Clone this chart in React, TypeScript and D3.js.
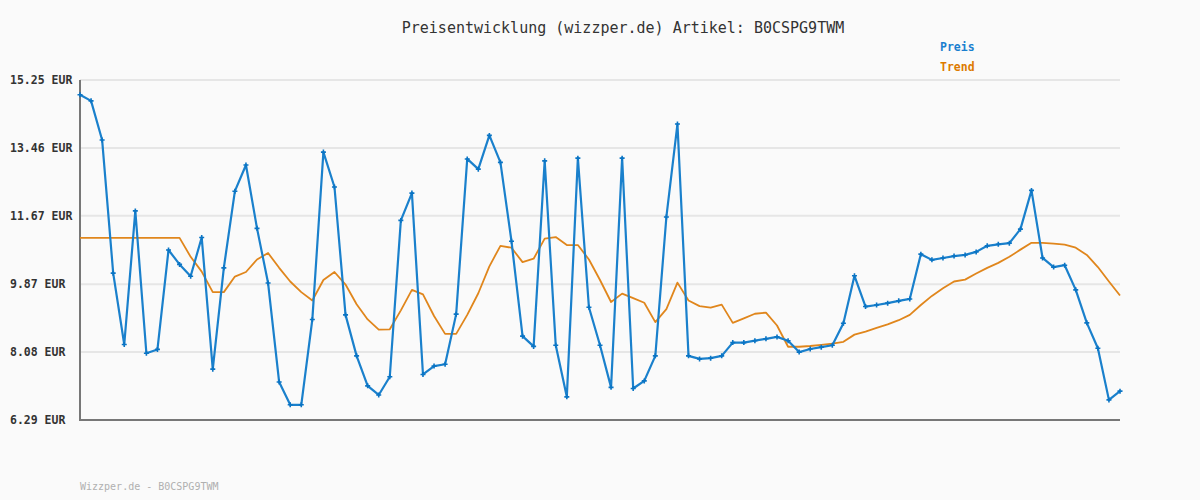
import React from 'react';
import * as d3 from 'd3';

// Preis (blue) and Trend (orange) values
const preis: number[] = [
  14.86, 14.70, 13.67, 10.16, 8.28, 11.80, 8.05, 8.15, 10.77, 10.39,
  10.08, 11.10, 7.63, 10.30, 12.32, 13.01, 11.34, 9.90, 7.29, 6.69,
  6.69, 8.94, 13.35, 12.43, 9.06, 7.98, 7.19, 6.95, 7.43, 11.55,
  12.27, 7.49, 7.71, 7.76, 9.08, 13.17, 12.90, 13.79, 13.08, 11.00,
  8.50, 8.23, 13.12, 8.26, 6.90, 13.19, 9.26, 8.26, 7.15, 13.19,
  7.12, 7.32, 7.98, 11.64, 14.09, 7.98, 7.90, 7.92, 7.98, 8.33,
  8.33, 8.38, 8.43, 8.48, 8.38, 8.08, 8.16, 8.21, 8.26, 8.84,
  10.09, 9.28, 9.32, 9.37, 9.43, 9.48, 10.66, 10.51, 10.56, 10.61,
  10.64, 10.72, 10.88, 10.92, 10.95, 11.32, 12.34, 10.56, 10.32, 10.37,
  9.72, 8.85, 8.18, 6.82, 7.05,
];

const trend: number[] = [
  11.09, 11.09, 11.09, 11.09, 11.09, 11.09, 11.09, 11.09, 11.09, 11.09,
  10.59, 10.20, 9.66, 9.66, 10.07, 10.19, 10.52, 10.69, 10.30, 9.94,
  9.66, 9.44, 9.98, 10.19, 9.86, 9.34, 8.94, 8.67, 8.68, 9.18,
  9.72, 9.60, 9.03, 8.56, 8.56, 9.06, 9.63, 10.34, 10.88, 10.83,
  10.45, 10.54, 11.07, 11.11, 10.90, 10.90, 10.52, 9.98, 9.40, 9.62,
  9.50, 9.38, 8.87, 9.21, 9.91, 9.44, 9.29, 9.25, 9.33, 8.85,
  8.97, 9.09, 9.12, 8.78, 8.22, 8.22, 8.24, 8.27, 8.30, 8.35,
  8.54, 8.62, 8.72, 8.81, 8.92, 9.06, 9.32, 9.56, 9.76, 9.94,
  9.99, 10.15, 10.30, 10.43, 10.59, 10.78, 10.96, 10.96, 10.94, 10.91,
  10.83, 10.64, 10.32, 9.94, 9.57,
];

const yTicks: number[] = [6.29, 8.08, 9.87, 11.67, 13.46, 15.25];

const articleId = 'B0CSPG9TWM';
const titleText = `Preisentwicklung (wizzper.de) Artikel: ${articleId}`;
const footerText = `Wizzper.de - ${articleId}`;

const width = 1200;
const height = 500;
const margin = { top: 80, right: 80, bottom: 80, left: 80 };
const mono = "'DejaVu Sans Mono', 'Liberation Mono', monospace";
const blue = '#1a80cc';
const orange = '#e0861c';

const App: React.FC = () => {
  const xScale = d3.scaleLinear()
    .domain([0, preis.length - 1])
    .range([margin.left, width - margin.right]);

  const yScale = d3.scaleLinear()
    .domain([6.29, 15.25])
    .range([height - margin.bottom, margin.top]);

  const line = d3.line<number>()
    .x((_, i) => xScale(i))
    .y(d => yScale(d));

  const x0 = xScale.range()[0];
  const x1 = xScale.range()[1];
  const yBottom = yScale.range()[0];

  return (
    <div style={{ position: 'fixed', left: 0, top: 0 }}>
      <svg width={width} height={height} style={{ display: 'block', background: '#fafafa' }}>
        {/* title */}
        <text x={623} y={33} textAnchor="middle" fontFamily={mono} fontSize={15} fill="#333">
          {titleText}
        </text>

        {/* legend */}
        <text x={940} y={51} fontFamily={mono} fontSize={11.5} fontWeight="bold" fill="#1a7fcf">Preis</text>
        <text x={940} y={71} fontFamily={mono} fontSize={11.5} fontWeight="bold" fill="#dd7a00">Trend</text>

        {/* grid lines and y labels */}
        {yTicks.map(t => (
          <g key={t}>
            <line x1={x0} x2={x1} y1={yScale(t)} y2={yScale(t)} stroke="#e6e6e6" strokeWidth={2} />
            <text x={10} y={yScale(t) + 4} fontFamily={mono} fontSize={11.5} fontWeight="bold" fill="#333">
              {`${t.toFixed(2)} EUR`}
            </text>
          </g>
        ))}

        {/* axes */}
        <line x1={x0} x2={x0} y1={margin.top} y2={yBottom + 1} stroke="#777" strokeWidth={2} />
        <line x1={x0 - 1} x2={x1} y1={yBottom} y2={yBottom} stroke="#777" strokeWidth={2} />

        {/* trend */}
        <path d={line(trend) || ''} fill="none" stroke={orange} strokeWidth={1.8} strokeLinejoin="round" />

        {/* price */}
        <path d={line(preis) || ''} fill="none" stroke={blue} strokeWidth={2.2} strokeLinejoin="round" />
        {preis.map((d, i) => (
          <path
            key={i}
            d={`M${xScale(i) - 2.5},${yScale(d)}h5M${xScale(i)},${yScale(d) - 2.5}v5`}
            stroke="#0a74c4"
            strokeWidth={1.6}
          />
        ))}

        {/* footer */}
        <text x={80} y={490} fontFamily={mono} fontSize={10} fill="#b0b0b0">{footerText}</text>
      </svg>
    </div>
  );
};

export default App;
